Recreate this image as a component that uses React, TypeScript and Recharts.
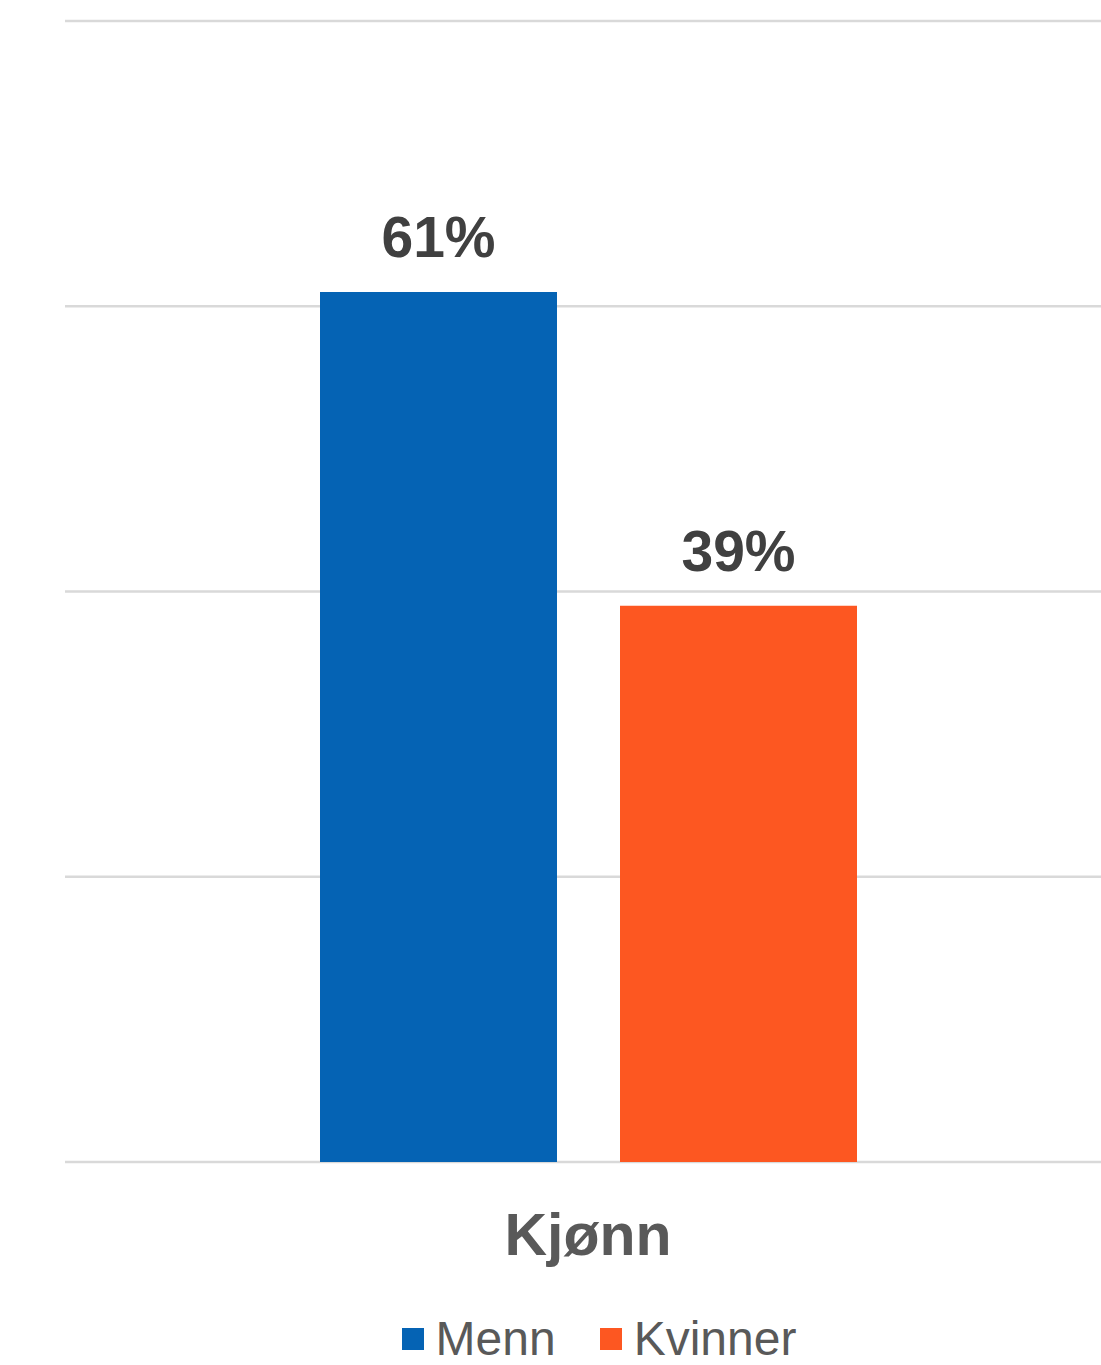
import React from "react";
import {
  Bar,
  BarChart,
  CartesianGrid,
  LabelList,
  Legend,
  XAxis,
  YAxis,
} from "recharts";

const categories = ["Kjønn"];
const menn = [61];
const kvinner = [39];
const seriesNames = ["Menn", "Kvinner"];
const yTicks = [0, 20, 40, 60, 80];

const colors = ["#0563b4", "#fd5721"];
const font = '"Liberation Sans", Arial, Helvetica, sans-serif';

const data = categories.map((c, i) => ({
  category: c,
  menn: menn[i],
  kvinner: kvinner[i],
}));

const CategoryTick = ({ x, y, payload }: any) => (
  <text
    x={x}
    y={y + 91}
    textAnchor="middle"
    fontFamily={font}
    fontSize={59}
    fontWeight="bold"
    fill="#595959"
  >
    {payload.value}
  </text>
);

const legendContent = () => (
  <div
    style={{
      height: 83,
      boxSizing: "border-box",
      paddingTop: 30,
      paddingLeft: 22,
      display: "flex",
      justifyContent: "center",
      gap: 44,
      fontFamily: font,
      fontSize: 48,
      lineHeight: "44px",
      color: "#595959",
    }}
  >
    {seriesNames.map((name, i) => (
      <span key={name} style={{ display: "flex", alignItems: "center" }}>
        <span
          style={{
            width: 22,
            height: 22,
            background: colors[i],
            marginRight: 12,
            display: "inline-block",
          }}
        />
        {name}
      </span>
    ))}
  </div>
);

export default function App() {
  return (
    <div
      style={{
        position: "absolute",
        left: 0,
        top: 0,
        width: 1101,
        height: 1365,
        overflow: "hidden",
        background: "#ffffff",
      }}
    >
      <BarChart
        width={1111}
        height={1365}
        data={data}
        margin={{ top: 21, right: 0, bottom: 0, left: 65 }}
        barSize={237}
        barGap={63}
      >
        <CartesianGrid
          vertical={false}
          stroke="#d9d9d9"
          strokeWidth={2.5}
        />
        <XAxis
          dataKey="category"
          axisLine={false}
          tickLine={false}
          tickSize={0}
          height={120}
          tick={<CategoryTick />}
        />
        <YAxis
          hide
          domain={[0, 80]}
          ticks={yTicks}
          width={0}
        />
        <Legend verticalAlign="bottom" content={legendContent} />
        <Bar
          dataKey="menn"
          name={seriesNames[0]}
          fill={colors[0]}
          isAnimationActive={false}
        >
          <LabelList
            dataKey="menn"
            position="top"
            offset={35}
            formatter={(v: number) => `${v}%`}
            fill="#404040"
            fontSize={57}
            fontWeight="bold"
            fontFamily={font}
          />
        </Bar>
        <Bar
          dataKey="kvinner"
          name={seriesNames[1]}
          fill={colors[1]}
          isAnimationActive={false}
        >
          <LabelList
            dataKey="kvinner"
            position="top"
            offset={35}
            formatter={(v: number) => `${v}%`}
            fill="#404040"
            fontSize={57}
            fontWeight="bold"
            fontFamily={font}
          />
        </Bar>
      </BarChart>
    </div>
  );
}
